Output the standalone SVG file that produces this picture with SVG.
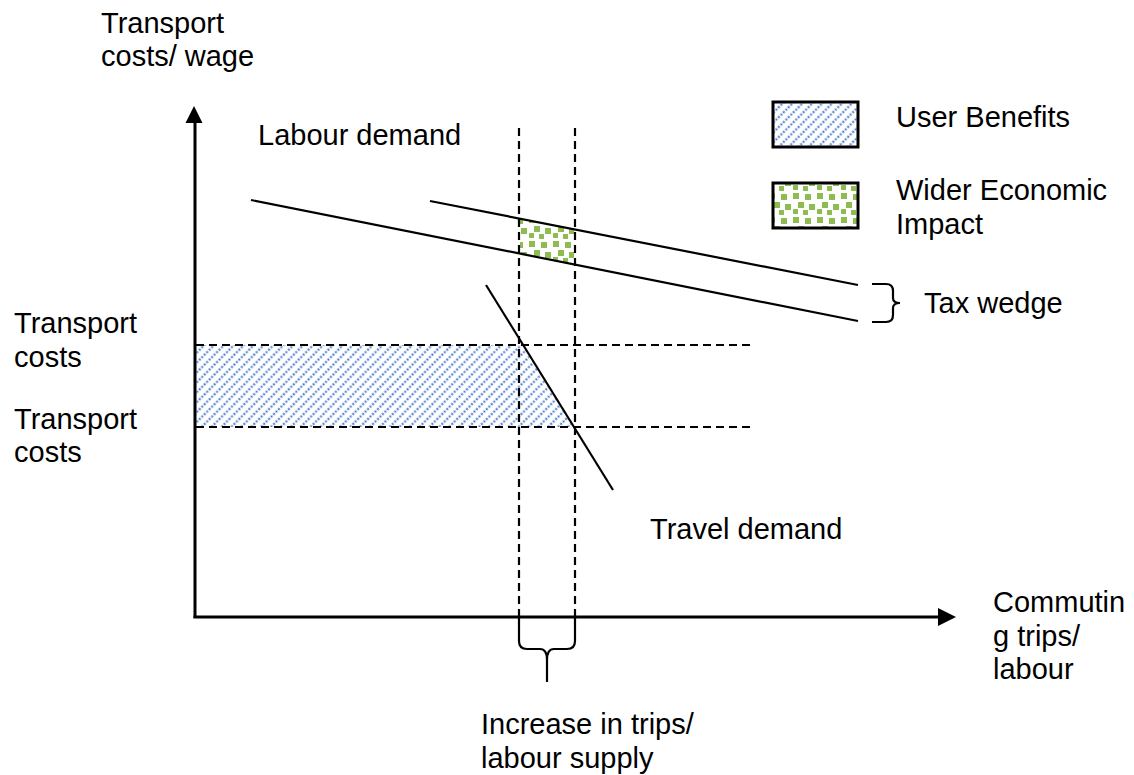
<svg xmlns="http://www.w3.org/2000/svg" width="1134" height="775" viewBox="0 0 1134 775">
<defs>
<style>
text{font-family:"Liberation Sans",Arial,sans-serif;font-size:29px;fill:#000}
.ln{stroke:#000;stroke-width:2.2;fill:none}
.ax{stroke:#000;stroke-width:3;fill:none}
.dash{stroke:#000;stroke-width:2.2;stroke-dasharray:8,5;fill:none}
.box{stroke:#000;stroke-width:3}
</style>
<pattern id="hatch" patternUnits="userSpaceOnUse" width="7" height="7" patternTransform="rotate(45)">
<line x1="3.5" y1="0" x2="3.5" y2="7" stroke="#4276cc" stroke-width="2" stroke-dasharray="2,1.5"/>
</pattern>
<pattern id="confetti" patternUnits="userSpaceOnUse" width="24" height="24">
<rect x="1" y="1" width="6" height="6" fill="#8fbc50"/>
<rect x="13" y="2" width="6" height="6" fill="#8fbc50"/>
<rect x="6" y="10" width="6" height="6" fill="#8fbc50"/>
<rect x="17" y="12" width="6" height="6" fill="#8fbc50"/>
<rect x="1" y="17" width="5" height="5" fill="#8fbc50"/>
<rect x="11" y="18" width="5" height="5" fill="#8fbc50"/>
</pattern>
</defs>
<rect width="1134" height="775" fill="#fff"/>

<g id="regions">
<polygon points="195,345 522,345 573,427 195,427" fill="url(#hatch)"/>
<polygon points="520,218.6 574,229.2 574,264.6 520,253.8" fill="url(#confetti)"/>
</g>

<g id="axes">
<line class="ax" x1="195" y1="618" x2="195" y2="112"/>
<polygon points="194,106 185.5,123 202.5,123" fill="#000"/>
<line class="ax" x1="193.5" y1="617" x2="940" y2="617"/>
<polygon points="956,617 938,608 938,626" fill="#000"/>
</g>

<g id="connectors">
<line class="dash" x1="519" y1="128" x2="519" y2="617"/>
<line class="dash" x1="575" y1="128" x2="575" y2="617"/>
<line class="dash" x1="196" y1="345" x2="750" y2="345"/>
<line class="dash" x1="196" y1="427" x2="750" y2="427"/>
<line class="ln" x1="251" y1="200" x2="858" y2="321"/>
<line class="ln" x1="430" y1="201" x2="858" y2="285"/>
<line class="ln" x1="486" y1="285" x2="613" y2="490"/>
<path class="ln" d="M519,617 L519,641 Q519,649 527,649 L540,649 Q547,649 547,660 L547,682 M547,660 Q547,649 554,649 L567,649 Q575,649 575,641 L575,617"/>
<path class="ln" d="M872,284 L886,284 Q893,284 893,291 L893,298 Q893,303 900,303 Q893,303 893,308 L893,315 Q893,322 886,322 L872,322"/>
</g>

<g id="legend-user">
<rect class="box" x="773" y="102" width="85" height="45" fill="url(#hatch)"/>
<text x="896" y="127">User Benefits</text>
</g>
<g id="legend-wider">
<rect class="box" x="773" y="183" width="85" height="45" fill="url(#confetti)"/>
<text x="896" y="200">Wider Economic</text>
<text x="896" y="234">Impact</text>
</g>

<g id="labels">
<text x="101" y="33">Transport</text>
<text x="101" y="66">costs/ wage</text>
<text x="258" y="145">Labour demand</text>
<text x="14" y="333">Transport</text>
<text x="14" y="367">costs</text>
<text x="14" y="429">Transport</text>
<text x="14" y="462">costs</text>
<text x="924" y="313">Tax wedge</text>
<text x="650" y="539">Travel demand</text>
<text x="993" y="612">Commutin</text>
<text x="993" y="646">g trips/</text>
<text x="993" y="679">labour</text>
<text x="481" y="734">Increase in trips/</text>
<text x="481" y="768">labour supply</text>
</g>
</svg>
